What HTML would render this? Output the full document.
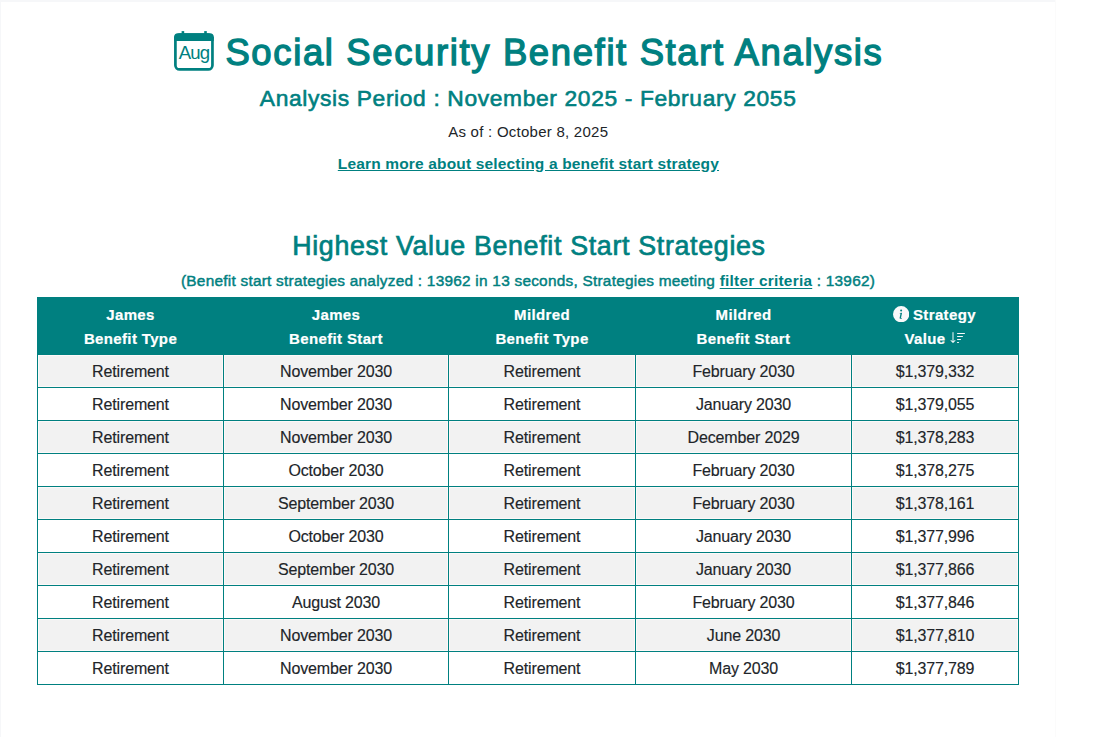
<!DOCTYPE html><html><head><meta charset="utf-8"><title>Social Security Benefit Start Analysis</title><style>
*{margin:0;padding:0;box-sizing:border-box}
html,body{width:1100px;height:737px;overflow:hidden;background:#fff}
body{font-family:"Liberation Sans",sans-serif;position:relative}
.abs{position:absolute;white-space:nowrap}
.c{left:0;width:1055px;text-align:center}
.teal{color:#008080}
</style></head><body>
<div class="abs" style="left:0;top:0;width:1055px;height:2px;background:#f6f7f9"></div>
<div class="abs" style="left:0;top:0;width:1px;height:737px;background:#f6f7f9"></div>
<div class="abs" style="left:1055px;top:0;width:1px;height:737px;background:#fbfbfb"></div>
<svg class="abs" style="left:172px;top:29px" width="44" height="44" viewBox="0 0 44 44">
<rect x="3.4" y="5.6" width="37.05" height="34.85" rx="4.2" ry="4.2" fill="none" stroke="#008080" stroke-width="2.7"/>
<rect x="2.05" y="4.3" width="39.75" height="7.6" rx="4" ry="4" fill="#008080"/>
<rect x="2.05" y="8" width="39.75" height="3.9" fill="#008080"/>
<rect x="9.6" y="2.1" width="2.6" height="4" fill="#008080"/>
<rect x="32.2" y="2.1" width="2.6" height="4" fill="#008080"/>
<text x="21.9" y="29.9" text-anchor="middle" font-family="Liberation Sans" font-size="18.6" fill="#008080" letter-spacing="-0.9">Aug</text>
</svg>
<div class="abs" style="left:225.40px;top:35.30px;font-size:36.5px;line-height:36.5px;letter-spacing:1.622px;font-weight:400;color:#008080;-webkit-text-stroke:1.3px #008080;">Social Security Benefit Start Analysis</div>
<div class="abs" style="left:259.80px;top:86.60px;font-size:22.8px;line-height:22.8px;letter-spacing:0.634px;font-weight:400;color:#008080;-webkit-text-stroke:0.6px #008080;">Analysis Period : November 2025 - February 2055</div>
<div class="abs" style="left:448.20px;top:123.70px;font-size:15px;line-height:15px;letter-spacing:0.252px;font-weight:400;color:#212529;">As of : October 8, 2025</div>
<div class="abs" style="left:337.80px;top:155.88px;font-size:15.5px;line-height:15.5px;letter-spacing:0.162px;font-weight:700;color:#008080;"><span style="text-decoration:underline;text-underline-offset:1px">Learn more about selecting a benefit start strategy</span></div>
<div class="abs" style="left:292.20px;top:233.31px;font-size:26.8px;line-height:26.8px;letter-spacing:0.674px;font-weight:400;color:#008080;-webkit-text-stroke:0.7px #008080;">Highest Value Benefit Start Strategies</div>
<div class="abs" style="left:181.00px;top:272.96px;font-size:15.4px;line-height:15.4px;letter-spacing:0.24px;font-weight:400;color:#008080;-webkit-text-stroke:0.45px #008080;">(Benefit start strategies analyzed : 13962 in 13 seconds, Strategies meeting <span style="font-weight:700;-webkit-text-stroke:0;text-decoration:underline;text-underline-offset:1.5px">filter criteria</span> : 13962)</div>
<div class="abs" style="left:37px;top:297px;width:982px;height:58px;background:#008080"></div>
<div class="abs" style="left:38px;top:355px;width:980px;height:32px;background:#fdf9f9"></div>
<div class="abs" style="left:39px;top:356px;width:183px;height:30px;background:#f2f2f2"></div>
<div class="abs" style="left:225px;top:356px;width:222px;height:30px;background:#f2f2f2"></div>
<div class="abs" style="left:450px;top:356px;width:184px;height:30px;background:#f2f2f2"></div>
<div class="abs" style="left:637px;top:356px;width:213px;height:30px;background:#f2f2f2"></div>
<div class="abs" style="left:853px;top:356px;width:164px;height:30px;background:#f2f2f2"></div>
<div class="abs" style="left:37px;top:387px;width:982px;height:1px;background:#008080"></div>
<div class="abs" style="left:38px;width:185px;text-align:center;top:364.06px;font-size:16px;line-height:16px;letter-spacing:-0.15px;font-weight:400;color:#212529;-webkit-text-stroke:0.15px #212529;">Retirement</div>
<div class="abs" style="left:224px;width:224px;text-align:center;top:364.06px;font-size:16px;line-height:16px;letter-spacing:-0.15px;font-weight:400;color:#212529;-webkit-text-stroke:0.15px #212529;">November 2030</div>
<div class="abs" style="left:449px;width:186px;text-align:center;top:364.06px;font-size:16px;line-height:16px;letter-spacing:-0.15px;font-weight:400;color:#212529;-webkit-text-stroke:0.15px #212529;">Retirement</div>
<div class="abs" style="left:636px;width:215px;text-align:center;top:364.06px;font-size:16px;line-height:16px;letter-spacing:-0.15px;font-weight:400;color:#212529;-webkit-text-stroke:0.15px #212529;">February 2030</div>
<div class="abs" style="left:852px;width:166px;text-align:center;top:364.06px;font-size:16px;line-height:16px;letter-spacing:-0.15px;font-weight:400;color:#212529;-webkit-text-stroke:0.15px #212529;">$1,379,332</div>
<div class="abs" style="left:37px;top:420px;width:982px;height:1px;background:#008080"></div>
<div class="abs" style="left:38px;width:185px;text-align:center;top:397.06px;font-size:16px;line-height:16px;letter-spacing:-0.15px;font-weight:400;color:#212529;-webkit-text-stroke:0.15px #212529;">Retirement</div>
<div class="abs" style="left:224px;width:224px;text-align:center;top:397.06px;font-size:16px;line-height:16px;letter-spacing:-0.15px;font-weight:400;color:#212529;-webkit-text-stroke:0.15px #212529;">November 2030</div>
<div class="abs" style="left:449px;width:186px;text-align:center;top:397.06px;font-size:16px;line-height:16px;letter-spacing:-0.15px;font-weight:400;color:#212529;-webkit-text-stroke:0.15px #212529;">Retirement</div>
<div class="abs" style="left:636px;width:215px;text-align:center;top:397.06px;font-size:16px;line-height:16px;letter-spacing:-0.15px;font-weight:400;color:#212529;-webkit-text-stroke:0.15px #212529;">January 2030</div>
<div class="abs" style="left:852px;width:166px;text-align:center;top:397.06px;font-size:16px;line-height:16px;letter-spacing:-0.15px;font-weight:400;color:#212529;-webkit-text-stroke:0.15px #212529;">$1,379,055</div>
<div class="abs" style="left:38px;top:421px;width:980px;height:32px;background:#fdf9f9"></div>
<div class="abs" style="left:39px;top:422px;width:183px;height:30px;background:#f2f2f2"></div>
<div class="abs" style="left:225px;top:422px;width:222px;height:30px;background:#f2f2f2"></div>
<div class="abs" style="left:450px;top:422px;width:184px;height:30px;background:#f2f2f2"></div>
<div class="abs" style="left:637px;top:422px;width:213px;height:30px;background:#f2f2f2"></div>
<div class="abs" style="left:853px;top:422px;width:164px;height:30px;background:#f2f2f2"></div>
<div class="abs" style="left:37px;top:453px;width:982px;height:1px;background:#008080"></div>
<div class="abs" style="left:38px;width:185px;text-align:center;top:430.06px;font-size:16px;line-height:16px;letter-spacing:-0.15px;font-weight:400;color:#212529;-webkit-text-stroke:0.15px #212529;">Retirement</div>
<div class="abs" style="left:224px;width:224px;text-align:center;top:430.06px;font-size:16px;line-height:16px;letter-spacing:-0.15px;font-weight:400;color:#212529;-webkit-text-stroke:0.15px #212529;">November 2030</div>
<div class="abs" style="left:449px;width:186px;text-align:center;top:430.06px;font-size:16px;line-height:16px;letter-spacing:-0.15px;font-weight:400;color:#212529;-webkit-text-stroke:0.15px #212529;">Retirement</div>
<div class="abs" style="left:636px;width:215px;text-align:center;top:430.06px;font-size:16px;line-height:16px;letter-spacing:-0.15px;font-weight:400;color:#212529;-webkit-text-stroke:0.15px #212529;">December 2029</div>
<div class="abs" style="left:852px;width:166px;text-align:center;top:430.06px;font-size:16px;line-height:16px;letter-spacing:-0.15px;font-weight:400;color:#212529;-webkit-text-stroke:0.15px #212529;">$1,378,283</div>
<div class="abs" style="left:37px;top:486px;width:982px;height:1px;background:#008080"></div>
<div class="abs" style="left:38px;width:185px;text-align:center;top:463.06px;font-size:16px;line-height:16px;letter-spacing:-0.15px;font-weight:400;color:#212529;-webkit-text-stroke:0.15px #212529;">Retirement</div>
<div class="abs" style="left:224px;width:224px;text-align:center;top:463.06px;font-size:16px;line-height:16px;letter-spacing:-0.15px;font-weight:400;color:#212529;-webkit-text-stroke:0.15px #212529;">October 2030</div>
<div class="abs" style="left:449px;width:186px;text-align:center;top:463.06px;font-size:16px;line-height:16px;letter-spacing:-0.15px;font-weight:400;color:#212529;-webkit-text-stroke:0.15px #212529;">Retirement</div>
<div class="abs" style="left:636px;width:215px;text-align:center;top:463.06px;font-size:16px;line-height:16px;letter-spacing:-0.15px;font-weight:400;color:#212529;-webkit-text-stroke:0.15px #212529;">February 2030</div>
<div class="abs" style="left:852px;width:166px;text-align:center;top:463.06px;font-size:16px;line-height:16px;letter-spacing:-0.15px;font-weight:400;color:#212529;-webkit-text-stroke:0.15px #212529;">$1,378,275</div>
<div class="abs" style="left:38px;top:487px;width:980px;height:32px;background:#fdf9f9"></div>
<div class="abs" style="left:39px;top:488px;width:183px;height:30px;background:#f2f2f2"></div>
<div class="abs" style="left:225px;top:488px;width:222px;height:30px;background:#f2f2f2"></div>
<div class="abs" style="left:450px;top:488px;width:184px;height:30px;background:#f2f2f2"></div>
<div class="abs" style="left:637px;top:488px;width:213px;height:30px;background:#f2f2f2"></div>
<div class="abs" style="left:853px;top:488px;width:164px;height:30px;background:#f2f2f2"></div>
<div class="abs" style="left:37px;top:519px;width:982px;height:1px;background:#008080"></div>
<div class="abs" style="left:38px;width:185px;text-align:center;top:496.06px;font-size:16px;line-height:16px;letter-spacing:-0.15px;font-weight:400;color:#212529;-webkit-text-stroke:0.15px #212529;">Retirement</div>
<div class="abs" style="left:224px;width:224px;text-align:center;top:496.06px;font-size:16px;line-height:16px;letter-spacing:-0.15px;font-weight:400;color:#212529;-webkit-text-stroke:0.15px #212529;">September 2030</div>
<div class="abs" style="left:449px;width:186px;text-align:center;top:496.06px;font-size:16px;line-height:16px;letter-spacing:-0.15px;font-weight:400;color:#212529;-webkit-text-stroke:0.15px #212529;">Retirement</div>
<div class="abs" style="left:636px;width:215px;text-align:center;top:496.06px;font-size:16px;line-height:16px;letter-spacing:-0.15px;font-weight:400;color:#212529;-webkit-text-stroke:0.15px #212529;">February 2030</div>
<div class="abs" style="left:852px;width:166px;text-align:center;top:496.06px;font-size:16px;line-height:16px;letter-spacing:-0.15px;font-weight:400;color:#212529;-webkit-text-stroke:0.15px #212529;">$1,378,161</div>
<div class="abs" style="left:37px;top:552px;width:982px;height:1px;background:#008080"></div>
<div class="abs" style="left:38px;width:185px;text-align:center;top:529.06px;font-size:16px;line-height:16px;letter-spacing:-0.15px;font-weight:400;color:#212529;-webkit-text-stroke:0.15px #212529;">Retirement</div>
<div class="abs" style="left:224px;width:224px;text-align:center;top:529.06px;font-size:16px;line-height:16px;letter-spacing:-0.15px;font-weight:400;color:#212529;-webkit-text-stroke:0.15px #212529;">October 2030</div>
<div class="abs" style="left:449px;width:186px;text-align:center;top:529.06px;font-size:16px;line-height:16px;letter-spacing:-0.15px;font-weight:400;color:#212529;-webkit-text-stroke:0.15px #212529;">Retirement</div>
<div class="abs" style="left:636px;width:215px;text-align:center;top:529.06px;font-size:16px;line-height:16px;letter-spacing:-0.15px;font-weight:400;color:#212529;-webkit-text-stroke:0.15px #212529;">January 2030</div>
<div class="abs" style="left:852px;width:166px;text-align:center;top:529.06px;font-size:16px;line-height:16px;letter-spacing:-0.15px;font-weight:400;color:#212529;-webkit-text-stroke:0.15px #212529;">$1,377,996</div>
<div class="abs" style="left:38px;top:553px;width:980px;height:32px;background:#fdf9f9"></div>
<div class="abs" style="left:39px;top:554px;width:183px;height:30px;background:#f2f2f2"></div>
<div class="abs" style="left:225px;top:554px;width:222px;height:30px;background:#f2f2f2"></div>
<div class="abs" style="left:450px;top:554px;width:184px;height:30px;background:#f2f2f2"></div>
<div class="abs" style="left:637px;top:554px;width:213px;height:30px;background:#f2f2f2"></div>
<div class="abs" style="left:853px;top:554px;width:164px;height:30px;background:#f2f2f2"></div>
<div class="abs" style="left:37px;top:585px;width:982px;height:1px;background:#008080"></div>
<div class="abs" style="left:38px;width:185px;text-align:center;top:562.06px;font-size:16px;line-height:16px;letter-spacing:-0.15px;font-weight:400;color:#212529;-webkit-text-stroke:0.15px #212529;">Retirement</div>
<div class="abs" style="left:224px;width:224px;text-align:center;top:562.06px;font-size:16px;line-height:16px;letter-spacing:-0.15px;font-weight:400;color:#212529;-webkit-text-stroke:0.15px #212529;">September 2030</div>
<div class="abs" style="left:449px;width:186px;text-align:center;top:562.06px;font-size:16px;line-height:16px;letter-spacing:-0.15px;font-weight:400;color:#212529;-webkit-text-stroke:0.15px #212529;">Retirement</div>
<div class="abs" style="left:636px;width:215px;text-align:center;top:562.06px;font-size:16px;line-height:16px;letter-spacing:-0.15px;font-weight:400;color:#212529;-webkit-text-stroke:0.15px #212529;">January 2030</div>
<div class="abs" style="left:852px;width:166px;text-align:center;top:562.06px;font-size:16px;line-height:16px;letter-spacing:-0.15px;font-weight:400;color:#212529;-webkit-text-stroke:0.15px #212529;">$1,377,866</div>
<div class="abs" style="left:37px;top:618px;width:982px;height:1px;background:#008080"></div>
<div class="abs" style="left:38px;width:185px;text-align:center;top:595.06px;font-size:16px;line-height:16px;letter-spacing:-0.15px;font-weight:400;color:#212529;-webkit-text-stroke:0.15px #212529;">Retirement</div>
<div class="abs" style="left:224px;width:224px;text-align:center;top:595.06px;font-size:16px;line-height:16px;letter-spacing:-0.15px;font-weight:400;color:#212529;-webkit-text-stroke:0.15px #212529;">August 2030</div>
<div class="abs" style="left:449px;width:186px;text-align:center;top:595.06px;font-size:16px;line-height:16px;letter-spacing:-0.15px;font-weight:400;color:#212529;-webkit-text-stroke:0.15px #212529;">Retirement</div>
<div class="abs" style="left:636px;width:215px;text-align:center;top:595.06px;font-size:16px;line-height:16px;letter-spacing:-0.15px;font-weight:400;color:#212529;-webkit-text-stroke:0.15px #212529;">February 2030</div>
<div class="abs" style="left:852px;width:166px;text-align:center;top:595.06px;font-size:16px;line-height:16px;letter-spacing:-0.15px;font-weight:400;color:#212529;-webkit-text-stroke:0.15px #212529;">$1,377,846</div>
<div class="abs" style="left:38px;top:619px;width:980px;height:32px;background:#fdf9f9"></div>
<div class="abs" style="left:39px;top:620px;width:183px;height:30px;background:#f2f2f2"></div>
<div class="abs" style="left:225px;top:620px;width:222px;height:30px;background:#f2f2f2"></div>
<div class="abs" style="left:450px;top:620px;width:184px;height:30px;background:#f2f2f2"></div>
<div class="abs" style="left:637px;top:620px;width:213px;height:30px;background:#f2f2f2"></div>
<div class="abs" style="left:853px;top:620px;width:164px;height:30px;background:#f2f2f2"></div>
<div class="abs" style="left:37px;top:651px;width:982px;height:1px;background:#008080"></div>
<div class="abs" style="left:38px;width:185px;text-align:center;top:628.06px;font-size:16px;line-height:16px;letter-spacing:-0.15px;font-weight:400;color:#212529;-webkit-text-stroke:0.15px #212529;">Retirement</div>
<div class="abs" style="left:224px;width:224px;text-align:center;top:628.06px;font-size:16px;line-height:16px;letter-spacing:-0.15px;font-weight:400;color:#212529;-webkit-text-stroke:0.15px #212529;">November 2030</div>
<div class="abs" style="left:449px;width:186px;text-align:center;top:628.06px;font-size:16px;line-height:16px;letter-spacing:-0.15px;font-weight:400;color:#212529;-webkit-text-stroke:0.15px #212529;">Retirement</div>
<div class="abs" style="left:636px;width:215px;text-align:center;top:628.06px;font-size:16px;line-height:16px;letter-spacing:-0.15px;font-weight:400;color:#212529;-webkit-text-stroke:0.15px #212529;">June 2030</div>
<div class="abs" style="left:852px;width:166px;text-align:center;top:628.06px;font-size:16px;line-height:16px;letter-spacing:-0.15px;font-weight:400;color:#212529;-webkit-text-stroke:0.15px #212529;">$1,377,810</div>
<div class="abs" style="left:37px;top:684px;width:982px;height:1px;background:#008080"></div>
<div class="abs" style="left:38px;width:185px;text-align:center;top:661.06px;font-size:16px;line-height:16px;letter-spacing:-0.15px;font-weight:400;color:#212529;-webkit-text-stroke:0.15px #212529;">Retirement</div>
<div class="abs" style="left:224px;width:224px;text-align:center;top:661.06px;font-size:16px;line-height:16px;letter-spacing:-0.15px;font-weight:400;color:#212529;-webkit-text-stroke:0.15px #212529;">November 2030</div>
<div class="abs" style="left:449px;width:186px;text-align:center;top:661.06px;font-size:16px;line-height:16px;letter-spacing:-0.15px;font-weight:400;color:#212529;-webkit-text-stroke:0.15px #212529;">Retirement</div>
<div class="abs" style="left:636px;width:215px;text-align:center;top:661.06px;font-size:16px;line-height:16px;letter-spacing:-0.15px;font-weight:400;color:#212529;-webkit-text-stroke:0.15px #212529;">May 2030</div>
<div class="abs" style="left:852px;width:166px;text-align:center;top:661.06px;font-size:16px;line-height:16px;letter-spacing:-0.15px;font-weight:400;color:#212529;-webkit-text-stroke:0.15px #212529;">$1,377,789</div>
<div class="abs" style="left:37px;top:297px;width:1px;height:388px;background:#008080"></div>
<div class="abs" style="left:223px;top:355px;width:1px;height:330px;background:#008080"></div>
<div class="abs" style="left:448px;top:355px;width:1px;height:330px;background:#008080"></div>
<div class="abs" style="left:635px;top:355px;width:1px;height:330px;background:#008080"></div>
<div class="abs" style="left:851px;top:355px;width:1px;height:330px;background:#008080"></div>
<div class="abs" style="left:1018px;top:297px;width:1px;height:388px;background:#008080"></div>
<div class="abs" style="left:38px;width:185px;text-align:center;top:306.80px;font-size:15px;line-height:15px;letter-spacing:0.36px;font-weight:700;color:#fff;-webkit-text-stroke:0.2px #fff;">James</div>
<div class="abs" style="left:38px;width:185px;text-align:center;top:330.80px;font-size:15px;line-height:15px;letter-spacing:0.36px;font-weight:700;color:#fff;-webkit-text-stroke:0.2px #fff;">Benefit Type</div>
<div class="abs" style="left:224px;width:224px;text-align:center;top:306.80px;font-size:15px;line-height:15px;letter-spacing:0.36px;font-weight:700;color:#fff;-webkit-text-stroke:0.2px #fff;">James</div>
<div class="abs" style="left:224px;width:224px;text-align:center;top:330.80px;font-size:15px;line-height:15px;letter-spacing:0.36px;font-weight:700;color:#fff;-webkit-text-stroke:0.2px #fff;">Benefit Start</div>
<div class="abs" style="left:449px;width:186px;text-align:center;top:306.80px;font-size:15px;line-height:15px;letter-spacing:0.36px;font-weight:700;color:#fff;-webkit-text-stroke:0.2px #fff;">Mildred</div>
<div class="abs" style="left:449px;width:186px;text-align:center;top:330.80px;font-size:15px;line-height:15px;letter-spacing:0.36px;font-weight:700;color:#fff;-webkit-text-stroke:0.2px #fff;">Benefit Type</div>
<div class="abs" style="left:636px;width:215px;text-align:center;top:306.80px;font-size:15px;line-height:15px;letter-spacing:0.36px;font-weight:700;color:#fff;-webkit-text-stroke:0.2px #fff;">Mildred</div>
<div class="abs" style="left:636px;width:215px;text-align:center;top:330.80px;font-size:15px;line-height:15px;letter-spacing:0.36px;font-weight:700;color:#fff;-webkit-text-stroke:0.2px #fff;">Benefit Start</div>
<svg class="abs" style="left:893.1px;top:305.9px" width="16.3" height="16.3" viewBox="0 0 16 16"><path fill="#f8f9fa" d="M8 16A8 8 0 1 0 8 0a8 8 0 0 0 0 16zm.93-9.412-1 4.705c-.07.34.029.533.304.533.194 0 .487-.07.686-.246l-.088.416c-.287.346-.92.598-1.465.598-.703 0-1.002-.422-.808-1.319l.738-3.468c.064-.293.006-.399-.287-.47l-.451-.081.082-.381 2.29-.287zM8 5.5a1 1 0 1 1 0-2 1 1 0 0 1 0 2z"/></svg>
<svg class="abs" style="left:949.6px;top:330.4px" width="16" height="16" viewBox="0 0 16 16"><path fill="#f8f9fa" d="M3.5 2.5a.5.5 0 0 0-1 0v8.793l-1.146-1.147a.5.5 0 0 0-.708.708l2 1.999.007.007a.497.497 0 0 0 .7-.006l2-2a.5.5 0 0 0-.707-.708L3.5 11.293V2.5zm3.5 1a.5.5 0 0 1 .5-.5h7a.5.5 0 0 1 0 1h-7a.5.5 0 0 1-.5-.5zM7.5 6a.5.5 0 0 0 0 1h5a.5.5 0 0 0 0-1h-5zm0 3a.5.5 0 0 0 0 1h3a.5.5 0 0 0 0-1h-3zm0 3a.5.5 0 0 0 0 1h1a.5.5 0 0 0 0-1h-1z"/></svg>
<div class="abs" style="left:913.00px;top:306.80px;font-size:15px;line-height:15px;letter-spacing:0.36px;font-weight:700;color:#fff;-webkit-text-stroke:0.2px #fff;">Strategy</div>
<div class="abs" style="left:904.50px;top:330.80px;font-size:15px;line-height:15px;letter-spacing:0.36px;font-weight:700;color:#fff;-webkit-text-stroke:0.2px #fff;">Value</div>
</body></html>
